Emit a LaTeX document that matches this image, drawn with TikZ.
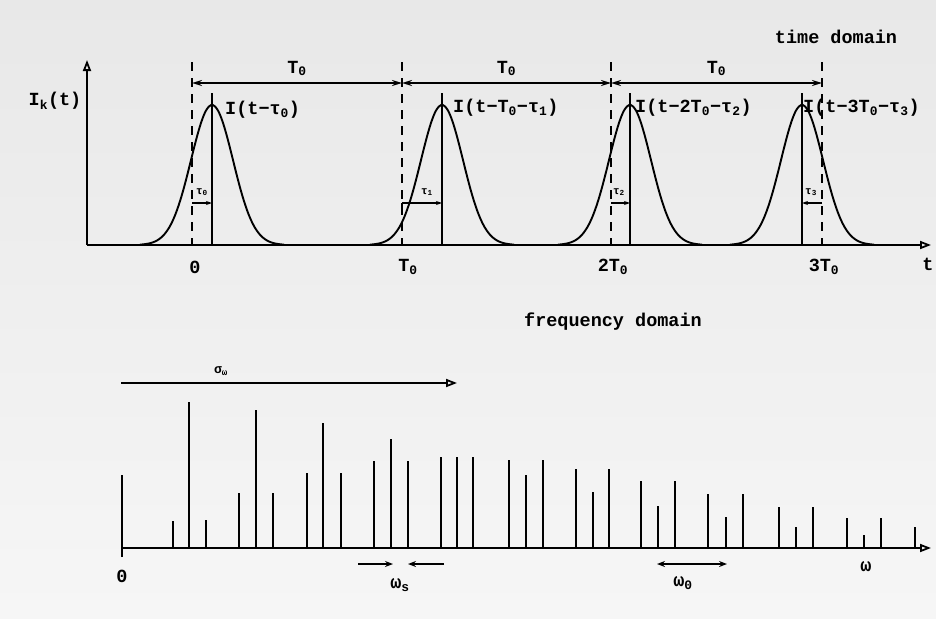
\documentclass[tikz,border=0pt]{standalone}
\usepackage{fontspec}
\setmainfont{Liberation Mono}
\usetikzlibrary{arrows.meta,positioning}
\newcommand{\lo}[1]{\textsubscript{#1}}

\begin{document}
\begin{tikzpicture}[
    x=1pt, y=-1pt,
    axis/.style={draw, line width=1.8pt, -{Triangle[open, length=11pt, width=8pt]}},
    span/.style={draw, line width=1.9pt, {Stealth[length=10pt, width=6pt]}-{Stealth[length=10pt, width=6pt]}},
    shiftarrow/.style={draw, line width=1.5pt, -{Stealth[length=6pt, width=4pt]}},
    origin/.style={draw, line width=1.5pt, dash pattern=on 9pt off 7pt},
    pulse/.style={draw, line width=1.9pt, smooth},
    spike/.style={draw, line width=2.1pt},
    lbl/.style={font=\fontsize{18.5}{22}\selectfont\bfseries, inner sep=1pt},
    small/.style={font=\fontsize{11}{12}\selectfont\bfseries, inner sep=0pt}
  ]
    % Background
    \shade[top color=gray!18, bottom color=gray!7] (0,0) rectangle (936,618);
    \useasboundingbox (0,0) rectangle (936,618);

    % Time domain - axes
    \coordinate (orig) at (87,245);
    \draw[axis] (orig) -- (87,60);
    \draw[axis] (orig) -- (931,245);
    \node[lbl] (ik) at (55,101) {I\lo{k}(t)};
    \node[lbl] (tdom) at (836,37) {time domain};
    \node[lbl] (tlab) at (928,264) {t};

    % Frame origins (dashed) and pulse centres
    \foreach \d in {192,402,611,822}
      \draw[origin] (\d,62) -- (\d,245);
    \foreach \c in {212,442,630,802} {
      \draw[pulse] plot[domain={\c-72}:{\c+72}, samples=70] (\x, {245-140*exp(-((\x-\c)^2)/882)});
      \draw[line width=1.8pt] (\c,245) -- (\c,93);
    }

    % Period arrows
    \coordinate (p0) at (192,83);
    \coordinate (p1) at (402,83);
    \coordinate (p2) at (611,83);
    \coordinate (p3) at (822,83);
    \draw[span] (p0) -- (p1) node[lbl, midway, above=5pt] (per1) {T\lo{0}};
    \draw[span] (p1) -- (p2) node[lbl, midway, above=5pt] (per2) {T\lo{0}};
    \draw[span] (p2) -- (p3) node[lbl, midway, above=5pt] (per3) {T\lo{0}};

    % Pulse labels
    \node[lbl, anchor=west] (i0) at (224,110) {I(t−τ\lo{0})};
    \node[lbl, anchor=west] (i1) at (452,108) {I(t−T\lo{0}−τ\lo{1})};
    \node[lbl, anchor=west] (i2) at (634,108) {I(t−2T\lo{0}−τ\lo{2})};
    \node[lbl, anchor=west] (i3) at (802,108) {I(t−3T\lo{0}−τ\lo{3})};

    % Tick labels
    \node[lbl] (x0) at (195,267) {0};
    \node[lbl] (x1) at (408,267) {T\lo{0}};
    \node[lbl] (x2) at (613,267) {2T\lo{0}};
    \node[lbl] (x3) at (824,267) {3T\lo{0}};

    % Delays tau
    \draw[shiftarrow] (192,203) -- (212,203);
    \draw[line width=1.5pt] (402,212) -- (402,203);
    \draw[shiftarrow] (402,203) -- (442,203);
    \draw[shiftarrow] (611,203) -- (630,203);
    \draw[shiftarrow] (822,203) -- (802,203);
    \node[small] (tau0) at (202,192) {τ\lo{0}};
    \node[small] (tau1) at (427,192) {τ\lo{1}};
    \node[small] (tau2) at (619,192) {τ\lo{2}};
    \node[small] (tau3) at (811,192) {τ\lo{3}};

    % Frequency domain
    \node[lbl] (fdom) at (613,322) {frequency domain};
    \coordinate (s0) at (121,383);
    \coordinate (s1) at (457,383);
    \draw[axis] (s0) -- (s1);
    \node[small, font=\fontsize{13}{14}\selectfont\bfseries] (sig) at (221,371) {σ\lo{ω}};

    \coordinate (w0) at (122,548);
    \draw[axis] (w0) -- (931,548);
    \draw[spike] (122,557) -- (122,475);
    \foreach \x/\y in {173/521, 189/402, 206/520, 239/493, 256/410, 273/493,
        307/473, 323/423, 341/473, 374/461, 391/439, 408/461, 441/457,
        457/457, 473/457, 509/460, 526/475, 543/460, 576/469, 593/492,
        609/469, 641/481, 658/506, 675/481, 708/494, 726/517, 743/494,
        779/507, 796/527, 813/507, 847/518, 864/535, 881/518, 915/527}
      \draw[spike] (\x,548) -- (\x,\y);
    \node[lbl] (wz) at (122,576) {0};
    \node[lbl] (wlab) at (866,567) {ω};

    % Spacings
    \coordinate (a1) at (358,564);
    \coordinate (a2) at (393,564);
    \coordinate (a3) at (444,564);
    \coordinate (a4) at (408,564);
    \draw[line width=2.3pt, -{Stealth[length=8pt, width=6pt]}] (a1) -- (a2);
    \draw[line width=2.3pt, -{Stealth[length=8pt, width=6pt]}] (a3) -- (a4);
    \node[lbl] (ws) at (400,585) {ω\lo{s}};
    \coordinate (b1) at (657,564);
    \coordinate (b2) at (727,564);
    \draw[line width=2.3pt, {Stealth[length=8pt, width=6pt]}-{Stealth[length=8pt, width=6pt]}] (b1) -- (b2);
    \node[lbl] (wo) at (683,583) {ω\lo{0}};
\end{tikzpicture}
\end{document}
